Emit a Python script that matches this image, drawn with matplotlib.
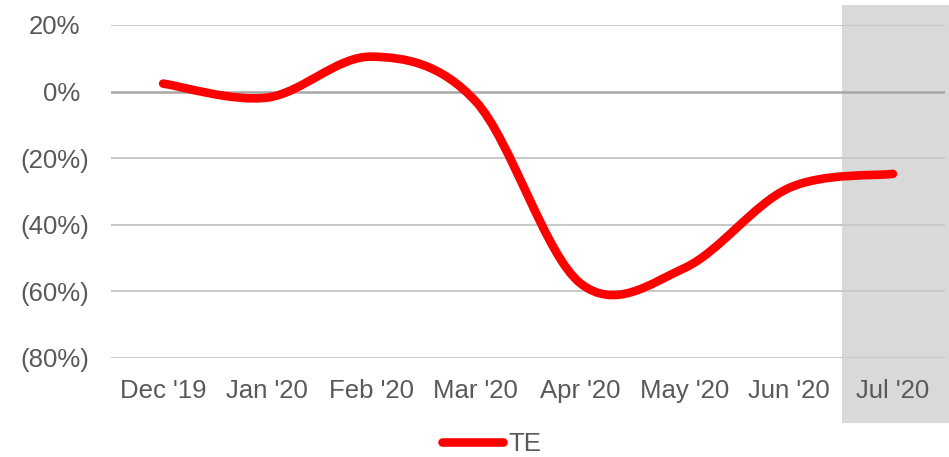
import numpy as np
import matplotlib.pyplot as plt
import matplotlib.transforms as mtransforms
from matplotlib.path import Path
from matplotlib.patches import PathPatch, Rectangle
from matplotlib.lines import Line2D

plt.rcParams['font.family'] = ['Liberation Sans', 'DejaVu Sans']

months = ["Dec '19", "Jan '20", "Feb '20", "Mar '20", "Apr '20", "May '20", "Jun '20", "Jul '20"]
te_change = [2.4, -1.8, 10.5, -3.0, -57.5, -53.0, -29.0, -24.7]   # % change
yticks = [20, 0, -20, -40, -60, -80]
ytick_labels = ["20%", "0%", "(20%)", "(40%)", "(60%)", "(80%)"]

RED = "#ff0000"
GREY_TXT = "#595959"
FS = 18.5


def smooth_path(xs, ys):
    # bezier smoothing through every point, like a spreadsheet "smoothed line"
    pts = np.column_stack([xs, ys]).astype(float)
    n = len(pts)
    verts = [pts[0]]
    codes = [Path.MOVETO]
    for i in range(n - 1):
        p0 = pts[i - 1] if i > 0 else pts[i]
        p1 = pts[i]
        p2 = pts[i + 1]
        p3 = pts[i + 2] if i + 2 < n else pts[i + 1]
        c1 = p1 + (p2 - p0) / 6.0
        c2 = p2 - (p3 - p1) / 6.0
        verts += [c1, c2, p2]
        codes += [Path.CURVE4] * 3
    return Path(verts, codes)


fig = plt.figure(figsize=(9.49, 4.57), dpi=100)

# highlighted last month, behind everything
fig.patches.append(Rectangle((842 / 949, 1 - 423 / 457), 110 / 949, 418 / 457,
                             transform=fig.transFigure, facecolor="#d9d9d9",
                             edgecolor="none", zorder=-5))

ax = fig.add_axes([111 / 949, 1 - 358 / 457, 834 / 949, 333 / 457])
ax.set_zorder(1)
ax.patch.set_alpha(0)

x = np.arange(len(months))
for v in yticks:
    if v == 0:
        ax.axhline(v, color="#a6a6a6", lw=1.8, zorder=1)
    else:
        ax.axhline(v, color="#c8c8c8", lw=1.4, zorder=1)

ax.add_patch(PathPatch(smooth_path(x, te_change), facecolor="none", edgecolor=RED,
                       lw=6.2, capstyle="round", joinstyle="round", zorder=3))

ax.set_xlim(-0.5, len(months) - 0.5)
ax.set_ylim(-80, 20)
ax.set_xticks(x)
ax.set_xticklabels(months)
ax.set_yticks(yticks)
ax.set_yticklabels(ytick_labels)
ax.tick_params(axis="both", length=0, labelsize=FS, colors=GREY_TXT)
ax.tick_params(axis="x", pad=15)
ax.tick_params(axis="y", pad=16)
for s in ax.spines.values():
    s.set_visible(False)

# positive labels leave room for the closing bracket
shift = mtransforms.ScaledTranslation(-9 / 100, 0, fig.dpi_scale_trans)
for lab in ax.get_yticklabels():
    if not lab.get_text().startswith("("):
        lab.set_transform(lab.get_transform() + shift)

handle = Line2D([], [], color=RED, lw=6.2, solid_capstyle="round")
fig.legend([handle], ["TE"], loc="center", bbox_to_anchor=(0.518, 1 - 444 / 457),
           frameon=False, fontsize=FS, labelcolor=GREY_TXT, handlelength=2.4,
           handletextpad=0.2, borderpad=0)

fig.savefig("out.png", dpi=100)
